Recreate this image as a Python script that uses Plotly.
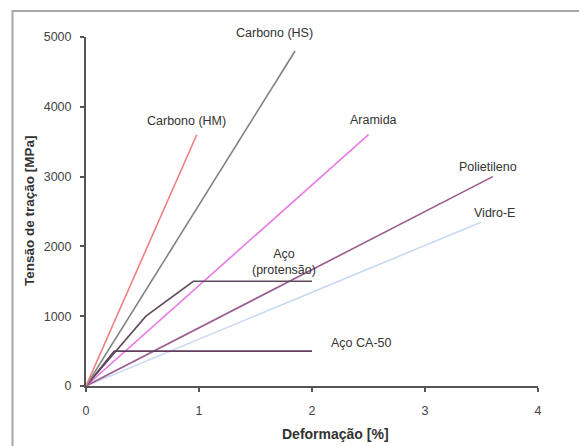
import plotly.graph_objects as go

# Data (strain %, stress MPa)
hm_x = [0, 0.98]
hm_y = [0, 3600]
hs_x = [0, 1.85]
hs_y = [0, 4800]
aramida_x = [0, 2.5]
aramida_y = [0, 3600]
polietileno_x = [0, 3.6]
polietileno_y = [0, 3000]
vidro_x = [0, 3.5]
vidro_y = [0, 2350]
protensao_x = [0, 0.53, 0.95, 2.0]
protensao_y = [0, 1000, 1500, 1500]
ca50_x = [0, 0.25, 2.0]
ca50_y = [0, 500, 500]

x_ticks = [0, 1, 2, 3, 4]
y_ticks = [0, 1000, 2000, 3000, 4000, 5000]

series = [
    (vidro_x, vidro_y, "#c9d9f0", "Vidro-E"),
    (polietileno_x, polietileno_y, "#9a5c8e", "Polietileno"),
    (aramida_x, aramida_y, "#e77ae7", "Aramida"),
    (ca50_x, ca50_y, "#5e3f5e", "Aço CA-50"),
    (protensao_x, protensao_y, "#5e4a5e", "Aço (protensão)"),
    (hs_x, hs_y, "#7f8480", "Carbono (HS)"),
    (hm_x, hm_y, "#f07f7f", "Carbono (HM)"),
]

fig = go.Figure()
for xs, ys, col, name in series:
    fig.add_trace(go.Scatter(x=xs, y=ys, mode="lines", name=name,
                             line=dict(color=col, width=1.6), showlegend=False,
                             cliponaxis=False))

# plot area in window pixels: x 86..538, y 37..386
PX0, PX1, PY0, PY1 = 86, 538, 37, 386


def px(xp):
    return (xp - PX0) / (PX1 - PX0)


def py(yp):
    return (PY1 - yp) / (PY1 - PY0)


labels = [
    ("Carbono (HS)", 274, 33),
    ("Carbono (HM)", 186, 121),
    ("Aramida", 373, 120),
    ("Polietileno", 488, 167),
    ("Vidro-E", 494, 213),
    ("Aço<br>(protensão)", 284, 262),
    ("Aço CA-50", 361, 343),
]
for txt, x, y in labels:
    fig.add_annotation(x=px(x), y=py(y), xref="paper", yref="paper", text=txt,
                       showarrow=False, font=dict(size=12.5, color="#333333"),
                       xanchor="center", yanchor="middle")

# axis titles
fig.add_annotation(x=px(335), y=py(434), xref="paper", yref="paper",
                   text="<b>Deformação [%]</b>", showarrow=False,
                   font=dict(size=14, color="#333333"), xanchor="center", yanchor="middle")
fig.add_annotation(x=px(29), y=py(211), xref="paper", yref="paper",
                   text="<b>Tensão de tração [MPa]</b>", showarrow=False, textangle=-90,
                   font=dict(size=13.5, color="#333333"), xanchor="center", yanchor="middle")

# outer border
fig.add_shape(type="rect", xref="paper", yref="paper",
              x0=px(12.5), x1=px(582), y0=py(470), y1=py(11),
              line=dict(color="#a8a8a8", width=2), fillcolor="rgba(0,0,0,0)")

# page has an 8px body margin, so the figure starts at window pixel (8, 8)
fig.update_layout(
    width=579, height=438,
    margin=dict(l=PX0 - 8, r=579 - (PX1 - 8), t=PY0 - 8, b=438 - (PY1 - 8)),
    paper_bgcolor="white", plot_bgcolor="white",
    font=dict(family="Arial, Liberation Sans, sans-serif", size=12, color="#333333"),
    xaxis=dict(range=[0, 4], tickvals=x_ticks, showgrid=False, zeroline=False,
               showline=True, linecolor="#555555", linewidth=2,
               ticks="outside", ticklen=4, tickcolor="#555555", tickwidth=2,
               tickfont=dict(size=12.5, color="#444444"), ticklabelstandoff=8),
    yaxis=dict(range=[0, 5000], tickvals=y_ticks, showgrid=False, zeroline=False,
               showline=True, linecolor="#555555", linewidth=2,
               ticks="outside", ticklen=4, tickcolor="#555555", tickwidth=2,
               tickfont=dict(size=12.5, color="#444444"), ticklabelstandoff=6),
)

fig.write_html("out.html")
